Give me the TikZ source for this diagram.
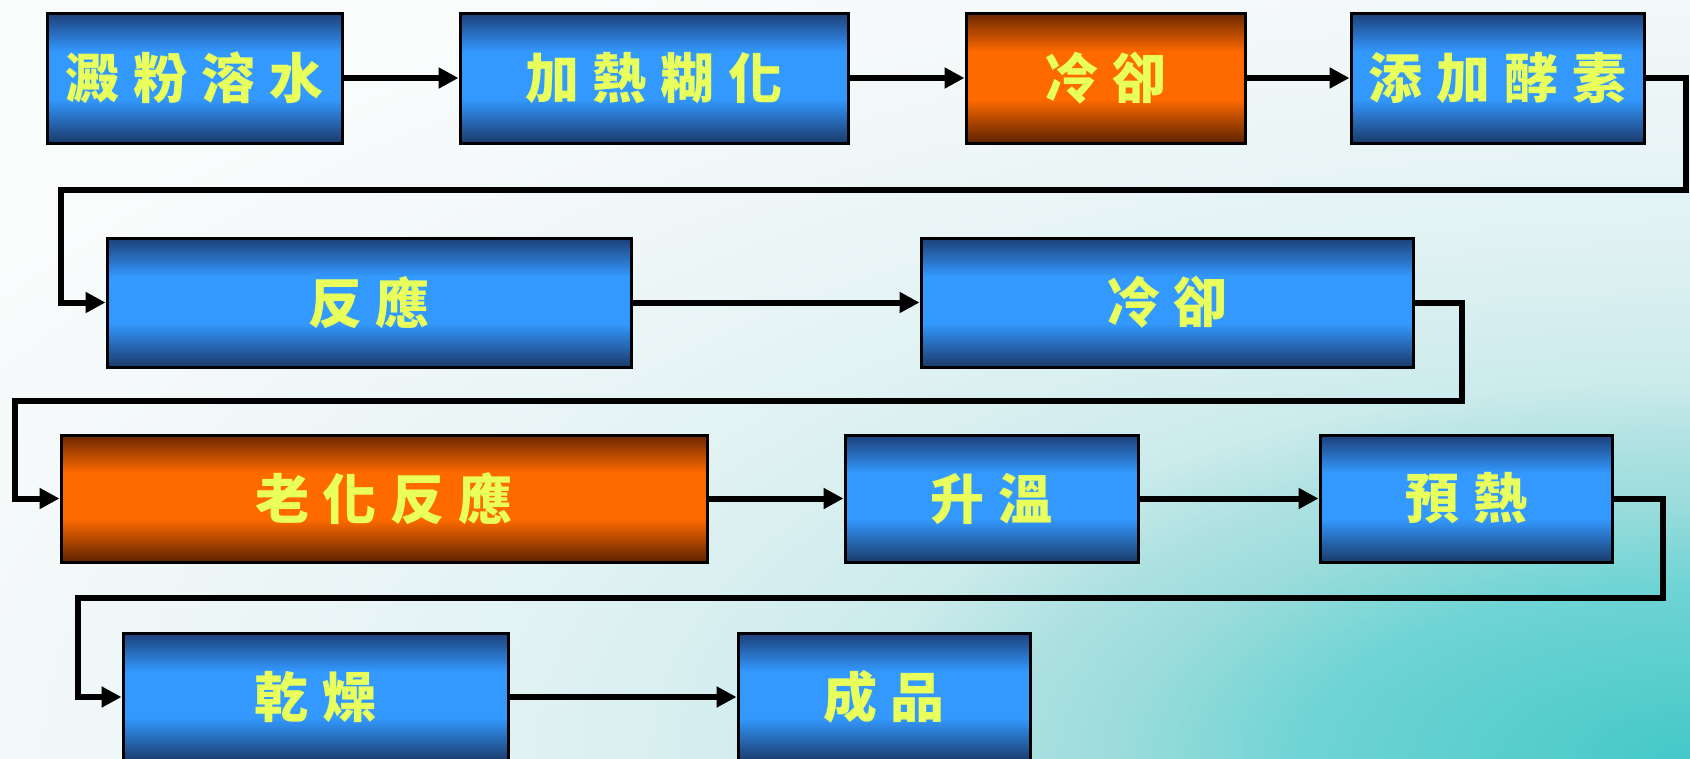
\documentclass[tikz,border=0pt]{standalone}
\usepackage{fontspec}
\newfontfamily\cjk{Noto Sans CJK TC}
\usetikzlibrary{arrows.meta}
\definecolor{bdk}{HTML}{1C3F78}
\definecolor{bdkb}{HTML}{1A3A6A}
\definecolor{bbr}{HTML}{3399FF}
\definecolor{odk}{HTML}{6A2600}
\definecolor{odkb}{HTML}{5E2200}
\definecolor{obr}{HTML}{FF6A00}
\definecolor{txt}{HTML}{E8FF5C}
\definecolor{bg0}{HTML}{45C8C8}
\definecolor{bg1}{HTML}{70D4D4}
\definecolor{bg2}{HTML}{9CDCDC}
\definecolor{bg3}{HTML}{AEE1E1}
\definecolor{bg4}{HTML}{CCEBEC}
\definecolor{bg5}{HTML}{E2F2F3}
\definecolor{bg6}{HTML}{F3F8F9}
\definecolor{bg7}{HTML}{FAFCFC}
\definecolor{bg8}{HTML}{FCFDFD}
\pgfdeclareradialshading{bgrad}{\pgfpoint{0bp}{0bp}}{color(0bp)=(bg0); color(5.75bp)=(bg1); color(8.5bp)=(bg2); color(10.25bp)=(bg3); color(12.5bp)=(bg4); color(17.5bp)=(bg5); color(25bp)=(bg6); color(30bp)=(bg7); color(50bp)=(bg8)}
\pgfdeclareverticalshading{blueshade}{100bp}{color(0bp)=(bdkb); color(25bp)=(bdkb); color(42bp)=(bbr); color(60bp)=(bbr); color(75bp)=(bdk); color(100bp)=(bdk)}
\pgfdeclareverticalshading{orangeshade}{100bp}{color(0bp)=(odkb); color(25bp)=(odkb); color(42bp)=(obr); color(60bp)=(obr); color(75bp)=(odk); color(100bp)=(odk)}
\newcommand\cgap{\hspace{14pt}}
\tikzset{
  box/.style={draw=black, line width=3pt, inner sep=0pt, text=txt,
    font=\cjk\bfseries\fontsize{54}{60}\selectfont},
  bluebox/.style={box, shade, shading=blueshade},
  orangebox/.style={box, shade, shading=orangeshade},
  conn/.style={line width=6pt, draw=black, -{Triangle[length=20pt,width=20pt]}},
}
\begin{document}
\begin{tikzpicture}[x=1pt,y=-1pt]
\useasboundingbox (0,0) rectangle (1690,758);
\begin{scope}
\clip (0,0) rectangle (1690,758);
\shade[shading=bgrad] (0,0) rectangle (3380,1516);
\end{scope}
% row 1
\node[bluebox, minimum width=295pt, minimum height=130pt] (b1) at (194.5,78) {澱\cgap 粉\cgap 溶\cgap 水};
\node[bluebox, minimum width=388pt, minimum height=130pt] (b2) at (654,78) {加\cgap 熱\cgap 糊\cgap 化};
\node[orangebox, minimum width=279pt, minimum height=130pt] (b3) at (1105.5,78) {冷\cgap 卻};
\node[bluebox, minimum width=293pt, minimum height=130pt] (b4) at (1497.5,78) {添\cgap 加\cgap 酵\cgap 素};
% row 2
\node[bluebox, minimum width=524pt, minimum height=129pt] (b5) at (369,302.5) {反\cgap 應};
\node[bluebox, minimum width=492pt, minimum height=129pt] (b6) at (1167,302.5) {冷\cgap 卻};
% row 3
\node[orangebox, minimum width=646pt, minimum height=127pt] (b7) at (384,498.5) {老\cgap 化\cgap 反\cgap 應};
\node[bluebox, minimum width=293pt, minimum height=127pt] (b8) at (991.5,498.5) {升\cgap 溫};
\node[bluebox, minimum width=292pt, minimum height=127pt] (b9) at (1466,498.5) {預\cgap 熱};
% row 4
\node[bluebox, minimum width=385pt, minimum height=128pt] (b10) at (315.5,697) {乾\cgap 燥};
\node[bluebox, minimum width=292pt, minimum height=128pt] (b11) at (884,697) {成\cgap 品};
% turn points
\coordinate (k1) at (1686,190);
\coordinate (k2) at (61,190);
\coordinate (k3) at (1462,401);
\coordinate (k4) at (15,401);
\coordinate (k5) at (1663,598);
\coordinate (k6) at (78,598);
% connectors
\draw[conn] (b1.east) -- (b2.west);
\draw[conn] (b2.east) -- (b3.west);
\draw[conn] (b3.east) -- (b4.west);
\draw[conn] (b4.east) -| (k1) -- (k2) |- (b5.west);
\draw[conn] (b5.east) -- (b6.west);
\draw[conn] (b6.east) -| (k3) -- (k4) |- (b7.west);
\draw[conn] (b7.east) -- (b8.west);
\draw[conn] (b8.east) -- (b9.west);
\draw[conn] (b9.east) -| (k5) -- (k6) |- (b10.west);
\draw[conn] (b10.east) -- (b11.west);
\end{tikzpicture}
\end{document}
